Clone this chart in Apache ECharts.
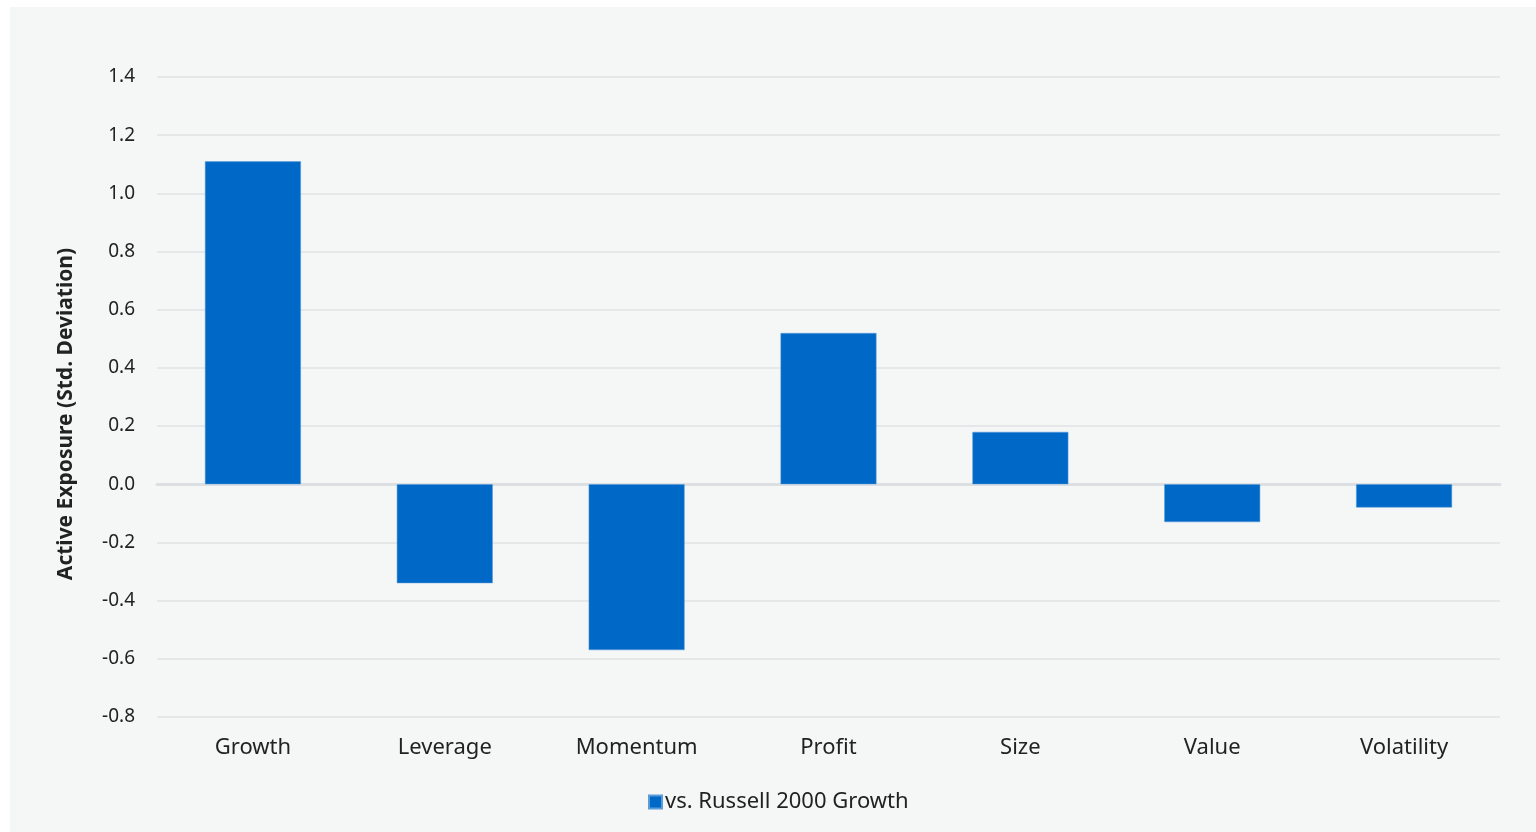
<!DOCTYPE html>
<html>
<head>
<meta charset="utf-8">
<script src="https://cdn.jsdelivr.net/npm/echarts@6/dist/echarts.min.js"></script>
<style>
    html, body { margin: 0; padding: 0; background: #ffffff; }
    #chart { position: absolute; left: 10px; top: 7px; width: 1526px; height: 825px; background: #f5f7f7; }
</style>
</head>
<body>
<div id="chart"></div>
<script>
var categories = ['Growth', 'Leverage', 'Momentum', 'Profit', 'Size', 'Value', 'Volatility'];
var exposure = [1.11, -0.34, -0.57, 0.52, 0.18, -0.13, -0.08];
var seriesName = 'vs. Russell 2000 Growth';
var yAxisName = 'Active Exposure (Std. Deviation)';

var myChart = echarts.init(document.getElementById('chart'));
var fontFamily = '"Noto Sans", sans-serif';

var option = {
    animation: false,
    textStyle: {fontFamily: fontFamily},
    grid: {
        left: 147,
        right: 36,
        top: 70,
        bottom: 115,
    },
    legend: {
        data: [seriesName],
        left: 633,
        top: 779,
        icon: 'rect',
        itemWidth: 13,
        itemHeight: 13,
        itemGap: 4,
        textStyle: {fontSize: 22, color: '#222222', fontFamily: fontFamily, padding: [0, 0, 0, -2]},
    },
    xAxis: {
        type: 'category',
        data: categories,
        axisTick: {show: false},
        axisLine: {onZero: true, lineStyle: {color: '#dde0e2', width: 3}},
        axisLabel: {fontSize: 22, color: '#222222', margin: 20},
    },
    yAxis: {
        type: 'value',
        min: -0.8,
        max: 1.4,
        interval: 0.2,
        name: yAxisName,
        nameLocation: 'middle',
        nameGap: 80,
        nameTextStyle: {fontSize: 21, fontWeight: 'bold', color: '#222222', fontFamily: fontFamily, padding: [0, 0, 0, -34]},
        axisLabel: {
            fontSize: 19,
            color: '#222222',
            margin: 22,
            formatter: function (v) { return v.toFixed(1); },
        },
        splitLine: {lineStyle: {color: '#e0e2e3', width: 1.5}},
    },
    series: [
        {
            name: seriesName,
            type: 'bar',
            data: exposure,
            barWidth: '50%',
            itemStyle: {color: '#0069c8', borderColor: '#5a9bd8', borderWidth: 0.5},
        },
    ],
};

myChart.setOption(option);
</script>
</body>
</html>
